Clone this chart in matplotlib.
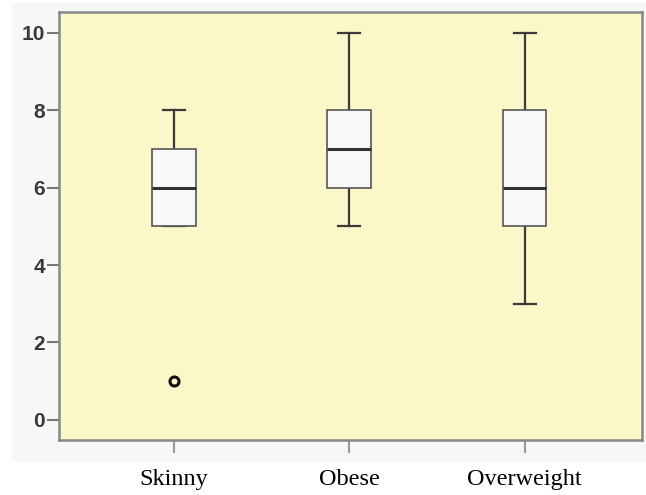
import matplotlib
matplotlib.use("Agg")
import matplotlib.pyplot as plt

# box statistics
groups = ["Skinny", "Obese", "Overweight"]
q1 = [5, 6, 5]
med = [6, 7, 6]
q3 = [7, 8, 8]
whislo = [5, 5, 3]
whishi = [8, 10, 10]
outliers = [[1], [], []]
yticks = [0, 2, 4, 6, 8, 10]

stats = []
for i, g in enumerate(groups):
    stats.append({"label": g, "q1": q1[i], "med": med[i], "q3": q3[i],
                  "whislo": whislo[i], "whishi": whishi[i], "fliers": outliers[i]})

W, H = 646, 495
fig = plt.figure(figsize=(W / 100, H / 100), dpi=100)
fig.patch.set_facecolor("white")

# light grey chart area behind the plot (SPSS style)
bg = fig.add_axes([12 / W, 1 - 462 / H, 1 - 12 / W, (462 - 3) / H], zorder=-1)
bg.set_facecolor("#f7f7f7")
bg.set_xticks([])
bg.set_yticks([])
for s in bg.spines.values():
    s.set_visible(False)

ax = fig.add_axes([59 / W, 1 - 440 / H, (642 - 59) / W, (440 - 12) / H], zorder=1)
ax.set_facecolor("#faf8c8")

line_col = "#3a3a3a"
ax.bxp(stats, positions=[1, 2, 3], widths=0.25, patch_artist=True, showfliers=True,
       boxprops=dict(facecolor="#f8f8f8", edgecolor="#555555", linewidth=1.2, zorder=3),
       medianprops=dict(color="#333333", linewidth=2.2, zorder=4),
       whiskerprops=dict(color=line_col, linewidth=1.6),
       capprops=dict(color=line_col, linewidth=1.6),
       flierprops=dict(marker="o", markersize=6.5, markerfacecolor="none",
                       markeredgecolor="#111111", markeredgewidth=2.2))

ax.set_xlim(0.343, 3.67)
ax.set_ylim(-0.52, 10.54)
ax.set_yticks(yticks)
ax.set_yticklabels([str(t) for t in yticks], fontfamily="Liberation Sans",
                   fontweight="bold", fontsize=15, color="#3a3a3a")
ax.set_xticks([1, 2, 3])
ax.set_xticklabels(groups, fontfamily="Liberation Serif", fontsize=17.5, color="black")

for s in ax.spines.values():
    s.set_color("#888888")
    s.set_linewidth(1.8)
ax.tick_params(axis="y", length=9, width=1.5, color="#777777", pad=1)
ax.tick_params(axis="x", length=9, width=1.5, color="#999999", pad=12)

fig.savefig("out.png", dpi=100)
